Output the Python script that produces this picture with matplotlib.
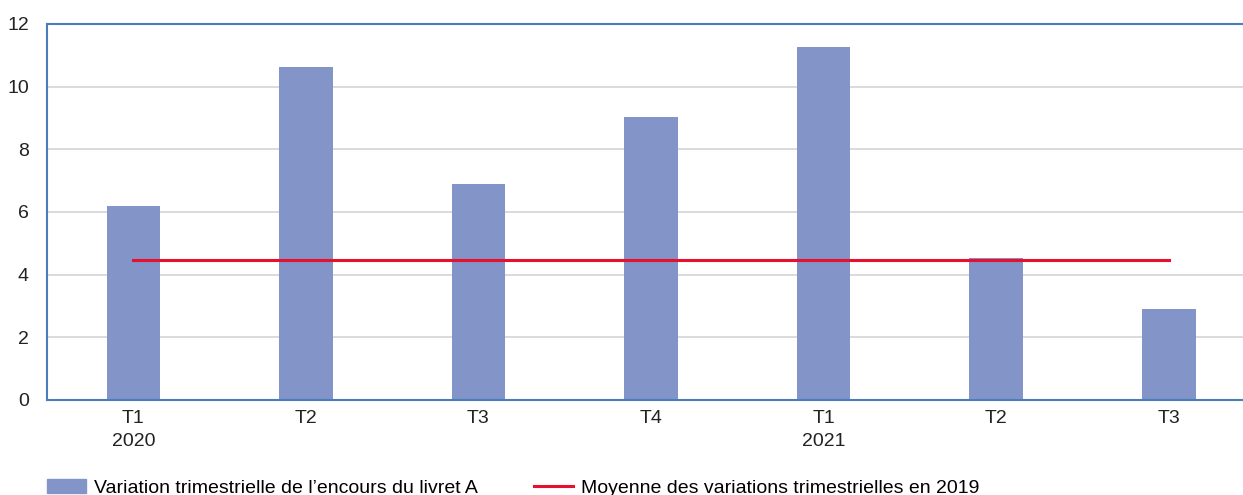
import matplotlib.pyplot as plt
from matplotlib.patches import Patch
from matplotlib.lines import Line2D

plt.rcParams['font.family'] = ['Liberation Sans', 'DejaVu Sans']

quarters = ['T1\n2020', 'T2', 'T3', 'T4', 'T1\n2021', 'T2', 'T3']
variation = [6.19, 10.63, 6.89, 9.03, 11.27, 4.53, 2.90]
moyenne_2019 = [4.47] * len(quarters)

bar_label = "Variation trimestrielle de l\u2019encours du livret A"
line_label = "Moyenne des variations trimestrielles en 2019"

bar_color = '#8294c8'
line_color = '#e8112d'

fig = plt.figure(figsize=(12.43, 4.95), dpi=100)
ax = fig.add_axes([47/1243, 95/495, 1 - 47/1243, 376/495])

x = list(range(len(quarters)))
ax.bar(x, variation, width=0.31, color=bar_color, zorder=2)
ax.plot(x, moyenne_2019, color=line_color, lw=2.2, zorder=3)

ax.set_xlim(-0.5, 6.43)
ax.set_ylim(0, 12)
ax.set_yticks(range(0, 13, 2))
ax.set_xticks(x)
ax.set_xticklabels(quarters, linespacing=1.45)
ax.tick_params(length=0, labelsize=14, colors='#222222')
ax.tick_params(axis='y', pad=13)
ax.tick_params(axis='x', pad=7)
ax.grid(axis='y', color='#d4d4d4', lw=1.2, zorder=0)

for s in ['left', 'top', 'bottom']:
    ax.spines[s].set_color('#4a7ebb')
    ax.spines[s].set_linewidth(1.5)
ax.spines['right'].set_visible(False)

handles = [Patch(color=bar_color), Line2D([], [], color=line_color, lw=2.2)]
fig.legend(handles, [bar_label, line_label], loc='center left',
           bbox_to_anchor=(47/1243, 7/495), ncol=2,
           frameon=False, fontsize=14, borderaxespad=0, borderpad=0,
           handlelength=2.0, handletextpad=0.4, columnspacing=2.9)

fig.savefig('out.png', dpi=100)
